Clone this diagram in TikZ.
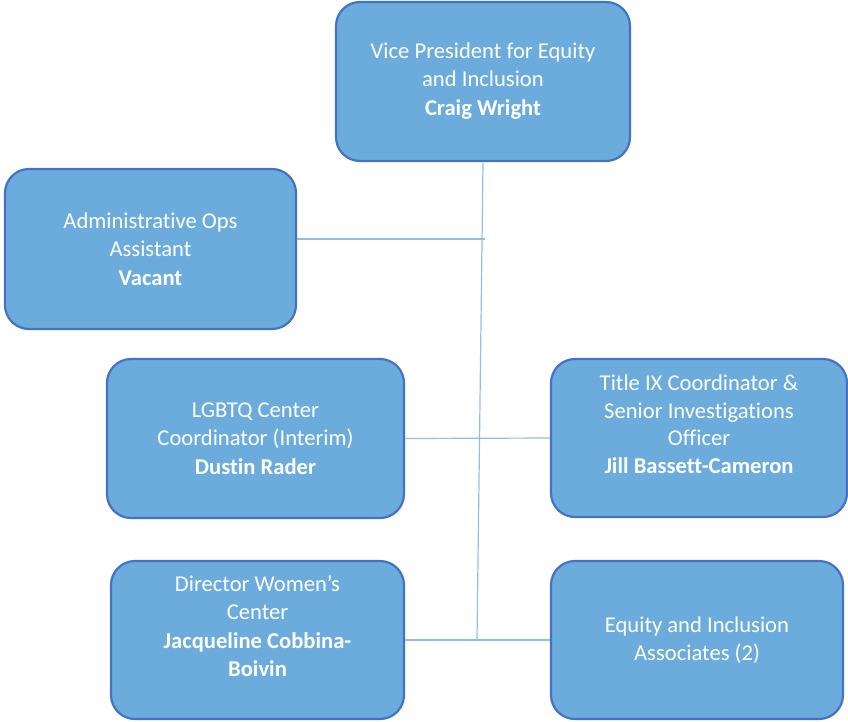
\documentclass[tikz,border=0pt]{standalone}
\usepackage{fontspec}
\setmainfont[Ligatures=NoCommon]{Carlito}
\definecolor{boxfill}{HTML}{6CACDD}
\definecolor{boxdraw}{HTML}{4472C4}
\definecolor{linkc}{HTML}{8DBFE8}
\begin{document}
\begin{tikzpicture}[x=1pt,y=-1pt,
  orgbox/.style={draw=boxdraw,fill=boxfill,line width=2.2pt,rounded corners=24pt,
    text=white,align=center,font=\fontsize{22.6}{27.8}\selectfont,inner sep=0pt},
  link/.style={draw=linkc,line width=1.2pt}]
\useasboundingbox (0,0) rectangle (848,721);
\node[orgbox,minimum width=294pt,minimum height=159pt] (vp) at (483,81.5)
  {Vice President for Equity\\and Inclusion\\[1.5pt]\textbf{Craig Wright}};
\node[orgbox,minimum width=291pt,minimum height=160pt] (admin) at (150.5,249)
  {Administrative Ops\\Assistant\\[1.5pt]\textbf{Vacant}};
\node[orgbox,minimum width=297pt,minimum height=159pt] (lgbtq) at (255.5,438.5)
  {LGBTQ Center\\Coordinator (Interim)\\[1.5pt]\textbf{Dustin Rader}};
\node[orgbox,minimum width=296pt,minimum height=158pt] (title) at (699,438)
  {Title IX Coordinator \&\\Senior Investigations\\Officer\\\textbf{Jill Bassett-Cameron}\\\mbox{}};
\node[orgbox,minimum width=293pt,minimum height=158pt] (dir) at (257.5,640)
  {Director Women’s\\Center\\[1.5pt]\textbf{Jacqueline Cobbina-}\\\textbf{Boivin}\\\mbox{}};
\node[orgbox,minimum width=292pt,minimum height=158pt] (eq) at (697,640)
  {Equity and Inclusion\\Associates (2)};
\coordinate (j1) at (485,239);
\coordinate (jb) at (477,640);
\draw[link] (vp.south) ++(0,1) -- (jb);
\draw[link] (j1) -- (j1 -| admin.east);
\draw[link] (lgbtq.east) -- (title.west);
\draw[link] (dir.east) -- (eq.west);
\end{tikzpicture}
\end{document}
